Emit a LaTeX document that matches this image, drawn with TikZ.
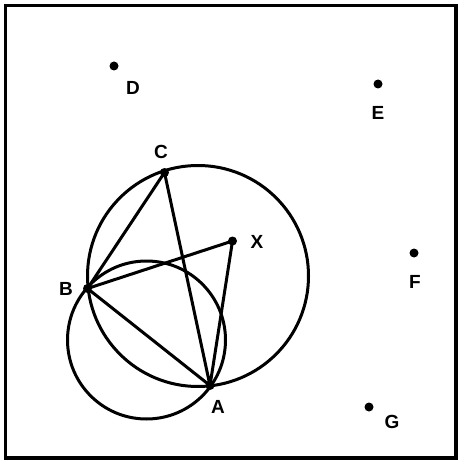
\documentclass[tikz,border=0pt]{standalone}
\usepackage{fontspec}
\setmainfont{Liberation Sans}
\begin{document}
\begin{tikzpicture}[x=1pt,y=-1pt,
  edge/.style={line width=3pt,line cap=round,line join=round},
  lbl/.style={font=\fontsize{19}{19}\selectfont\bfseries,inner sep=0pt},
  pt/.style={circle,fill=black,inner sep=0pt,minimum size=9pt}]
\useasboundingbox (0,0) rectangle (460,462);
\draw[line width=3.2pt] (5.5,5.5) rectangle (456,458);
% points
\node[pt] (D) at (114,66) {};
\node[pt] (E) at (378,84) {};
\node[pt] (F) at (414,253) {};
\node[pt] (G) at (369,407) {};
\node[pt] (C) at (164.5,172.5) {};
\node[pt] (B) at (87.5,288.5) {};
\node[pt] (A) at (210,385.5) {};
\node[pt] (X) at (232.5,241) {};
% labels
\node[lbl] at (133,88) {D};
\node[lbl] at (378,113) {E};
\node[lbl] at (415,282) {F};
\node[lbl] at (392,422) {G};
\node[lbl] at (161,152) {C};
\node[lbl] at (66,289) {B};
\node[lbl] at (218,407) {A};
\node[lbl] at (257,242) {X};
% circles
\draw[edge] (198,276) circle[radius=110.5];
\draw[edge] (146.5,340) circle[radius=79];
% segments
\draw[edge] (B.center) -- (C.center) -- (A.center) -- (B.center) -- (X.center) -- (A.center);
\end{tikzpicture}
\end{document}
